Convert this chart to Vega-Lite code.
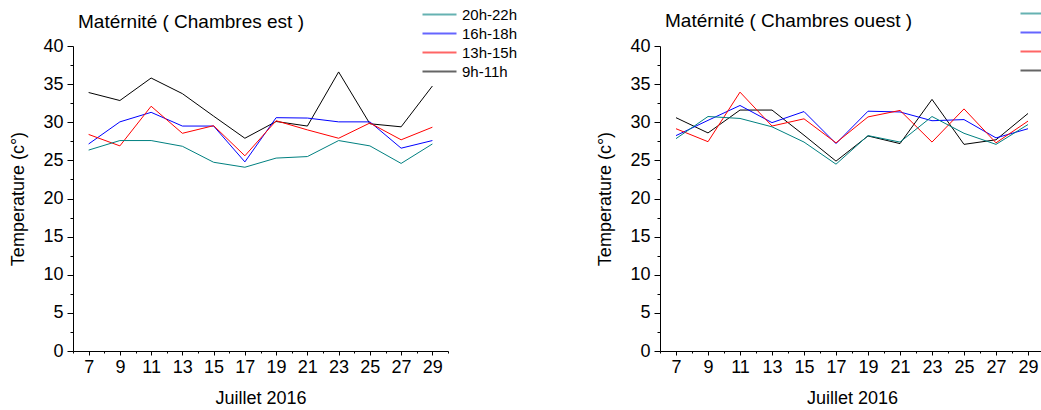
{
  "$schema": "https://vega.github.io/schema/vega-lite/v6.json",
  "background": "white",
  "padding": {"left": 9, "top": 6, "right": 5, "bottom": 5},
  "bounds": "flush",
  "spacing": 212,
  "config": {
    "view": {"stroke": null},
    "font": "Liberation Sans",
    "axis": {
      "grid": false,
      "domainColor": "black",
      "tickColor": "black",
      "labelColor": "black",
      "titleColor": "black",
      "labelFontSize": 18,
      "titleFontSize": 18,
      "titleFontWeight": "normal",
      "labelOverlap": false,
      "labelFlush": false
    },
    "legend": {
      "orient": "none",
      "symbolType": "M-3.4,0H3.4",
      "symbolSize": 100,
      "symbolStrokeWidth": 2,
      "symbolOpacity": 0.6,
      "labelFontSize": 15,
      "labelColor": "black",
      "rowPadding": 3,
      "labelOffset": 15,
      "padding": 0
    },
    "title": {"fontSize": 19, "fontWeight": "normal", "anchor": "start", "color": "black", "frame": "group"}
  },
  "datasets": {
    "est": [
      {"day": 7, "series": "9h-11h", "temp": 33.9}, {"day": 9, "series": "9h-11h", "temp": 32.85}, {"day": 11, "series": "9h-11h", "temp": 35.8}, {"day": 13, "series": "9h-11h", "temp": 33.75}, {"day": 15, "series": "9h-11h", "temp": 30.8}, {"day": 17, "series": "9h-11h", "temp": 27.9}, {"day": 19, "series": "9h-11h", "temp": 30.1}, {"day": 21, "series": "9h-11h", "temp": 29.5}, {"day": 23, "series": "9h-11h", "temp": 36.6}, {"day": 25, "series": "9h-11h", "temp": 29.8}, {"day": 27, "series": "9h-11h", "temp": 29.4}, {"day": 29, "series": "9h-11h", "temp": 34.75},
      {"day": 7, "series": "16h-18h", "temp": 27.15}, {"day": 9, "series": "16h-18h", "temp": 30.05}, {"day": 11, "series": "16h-18h", "temp": 31.3}, {"day": 13, "series": "16h-18h", "temp": 29.5}, {"day": 15, "series": "16h-18h", "temp": 29.5}, {"day": 17, "series": "16h-18h", "temp": 24.8}, {"day": 19, "series": "16h-18h", "temp": 30.6}, {"day": 21, "series": "16h-18h", "temp": 30.55}, {"day": 23, "series": "16h-18h", "temp": 30.05}, {"day": 25, "series": "16h-18h", "temp": 30.05}, {"day": 27, "series": "16h-18h", "temp": 26.6}, {"day": 29, "series": "16h-18h", "temp": 27.6},
      {"day": 7, "series": "13h-15h", "temp": 28.4}, {"day": 9, "series": "13h-15h", "temp": 26.9}, {"day": 11, "series": "13h-15h", "temp": 32.1}, {"day": 13, "series": "13h-15h", "temp": 28.55}, {"day": 15, "series": "13h-15h", "temp": 29.55}, {"day": 17, "series": "13h-15h", "temp": 25.6}, {"day": 19, "series": "13h-15h", "temp": 30.2}, {"day": 21, "series": "13h-15h", "temp": 29.0}, {"day": 23, "series": "13h-15h", "temp": 27.9}, {"day": 25, "series": "13h-15h", "temp": 29.9}, {"day": 27, "series": "13h-15h", "temp": 27.7}, {"day": 29, "series": "13h-15h", "temp": 29.35},
      {"day": 7, "series": "20h-22h", "temp": 26.35}, {"day": 9, "series": "20h-22h", "temp": 27.6}, {"day": 11, "series": "20h-22h", "temp": 27.6}, {"day": 13, "series": "20h-22h", "temp": 26.85}, {"day": 15, "series": "20h-22h", "temp": 24.75}, {"day": 17, "series": "20h-22h", "temp": 24.1}, {"day": 19, "series": "20h-22h", "temp": 25.3}, {"day": 21, "series": "20h-22h", "temp": 25.5}, {"day": 23, "series": "20h-22h", "temp": 27.6}, {"day": 25, "series": "20h-22h", "temp": 26.9}, {"day": 27, "series": "20h-22h", "temp": 24.6}, {"day": 29, "series": "20h-22h", "temp": 27.15}
    ],
    "ouest": [
      {"day": 7, "series": "9h-11h", "temp": 30.6}, {"day": 9, "series": "9h-11h", "temp": 28.6}, {"day": 11, "series": "9h-11h", "temp": 31.6}, {"day": 13, "series": "9h-11h", "temp": 31.6}, {"day": 15, "series": "9h-11h", "temp": 28.3}, {"day": 17, "series": "9h-11h", "temp": 24.9}, {"day": 19, "series": "9h-11h", "temp": 28.2}, {"day": 21, "series": "9h-11h", "temp": 27.2}, {"day": 23, "series": "9h-11h", "temp": 33.0}, {"day": 25, "series": "9h-11h", "temp": 27.1}, {"day": 27, "series": "9h-11h", "temp": 27.7}, {"day": 29, "series": "9h-11h", "temp": 31.15},
      {"day": 7, "series": "16h-18h", "temp": 28.25}, {"day": 9, "series": "16h-18h", "temp": 30.25}, {"day": 11, "series": "16h-18h", "temp": 32.2}, {"day": 13, "series": "16h-18h", "temp": 29.95}, {"day": 15, "series": "16h-18h", "temp": 31.4}, {"day": 17, "series": "16h-18h", "temp": 27.2}, {"day": 19, "series": "16h-18h", "temp": 31.45}, {"day": 21, "series": "16h-18h", "temp": 31.35}, {"day": 23, "series": "16h-18h", "temp": 30.2}, {"day": 25, "series": "16h-18h", "temp": 30.35}, {"day": 27, "series": "16h-18h", "temp": 27.95}, {"day": 29, "series": "16h-18h", "temp": 29.15},
      {"day": 7, "series": "13h-15h", "temp": 29.15}, {"day": 9, "series": "13h-15h", "temp": 27.45}, {"day": 11, "series": "13h-15h", "temp": 33.95}, {"day": 13, "series": "13h-15h", "temp": 29.5}, {"day": 15, "series": "13h-15h", "temp": 30.45}, {"day": 17, "series": "13h-15h", "temp": 27.3}, {"day": 19, "series": "13h-15h", "temp": 30.7}, {"day": 21, "series": "13h-15h", "temp": 31.55}, {"day": 23, "series": "13h-15h", "temp": 27.4}, {"day": 25, "series": "13h-15h", "temp": 31.75}, {"day": 27, "series": "13h-15h", "temp": 27.3}, {"day": 29, "series": "13h-15h", "temp": 30.15},
      {"day": 7, "series": "20h-22h", "temp": 27.85}, {"day": 9, "series": "20h-22h", "temp": 30.75}, {"day": 11, "series": "20h-22h", "temp": 30.5}, {"day": 13, "series": "20h-22h", "temp": 29.4}, {"day": 15, "series": "20h-22h", "temp": 27.4}, {"day": 17, "series": "20h-22h", "temp": 24.5}, {"day": 19, "series": "20h-22h", "temp": 28.25}, {"day": 21, "series": "20h-22h", "temp": 27.4}, {"day": 23, "series": "20h-22h", "temp": 30.75}, {"day": 25, "series": "20h-22h", "temp": 28.55}, {"day": 27, "series": "20h-22h", "temp": 27.1}, {"day": 29, "series": "20h-22h", "temp": 29.7}
    ]
  },
  "resolve": {"legend": {"color": "independent"}},
  "hconcat": [
    {
      "width": 375,
      "height": 305,
      "title": {"text": "Matérnité ( Chambres est )", "dx": 5, "offset": -40, "baseline": "alphabetic"},
      "data": {"name": "est"},
      "mark": {"type": "line", "strokeWidth": 1},
      "encoding": {
        "x": {
          "field": "day", "type": "quantitative",
          "scale": {"domain": [6, 30], "nice": false, "zero": false},
          "axis": {
            "title": "Juillet 2016",
            "values": [6,7,8,9,10,11,12,13,14,15,16,17,18,19,20,21,22,23,24,25,26,27,28,29,30],
            "labelExpr": "datum.value % 2 == 1 ? datum.label : ''",
            "tickSize": {"condition": {"test": "datum.value % 2 == 1", "value": 4}, "value": 2},
            "labelPadding": 3,
            "titlePadding": 13
          }
        },
        "y": {
          "field": "temp", "type": "quantitative",
          "scale": {"domain": [0, 40], "nice": false},
          "axis": {
            "title": "Temperature (c°)",
            "values": [0,2.5,5,7.5,10,12.5,15,17.5,20,22.5,25,27.5,30,32.5,35,37.5,40],
            "labelExpr": "datum.value % 5 == 0 ? datum.label : ''",
            "tickSize": {"condition": {"test": "datum.value % 5 == 0", "value": 6}, "value": 3},
            "labelPadding": 4,
            "titlePadding": 15
          }
        },
        "color": {
          "field": "series", "type": "nominal",
          "scale": {"domain": ["20h-22h", "16h-18h", "13h-15h", "9h-11h"], "range": ["#008080", "#0000ff", "#ff0000", "#000000"]},
          "legend": {
            "title": null, "legendX": 359, "legendY": -39,
            "encode": {"symbols": {"update": {"stroke": {"signal": "datum.value === '20h-22h' ? '#008080' : datum.value === '16h-18h' ? '#0000ff' : datum.value === '13h-15h' ? '#ff0000' : '#000000'"}}}}
          }
        }
      }
    },
    {
      "width": 384,
      "height": 305,
      "title": {"text": "Matérnité ( Chambres ouest )", "dx": 5, "offset": -40, "baseline": "alphabetic"},
      "data": {"name": "ouest"},
      "mark": {"type": "line", "strokeWidth": 1},
      "encoding": {
        "x": {
          "field": "day", "type": "quantitative",
          "scale": {"domain": [6, 30], "nice": false, "zero": false},
          "axis": {
            "title": "Juillet 2016",
            "values": [6,7,8,9,10,11,12,13,14,15,16,17,18,19,20,21,22,23,24,25,26,27,28,29,30],
            "labelExpr": "datum.value % 2 == 1 ? datum.label : ''",
            "tickSize": {"condition": {"test": "datum.value % 2 == 1", "value": 4}, "value": 2},
            "labelPadding": 3,
            "titlePadding": 13
          }
        },
        "y": {
          "field": "temp", "type": "quantitative",
          "scale": {"domain": [0, 40], "nice": false},
          "axis": {
            "title": "Temperature (c°)",
            "values": [0,2.5,5,7.5,10,12.5,15,17.5,20,22.5,25,27.5,30,32.5,35,37.5,40],
            "labelExpr": "datum.value % 5 == 0 ? datum.label : ''",
            "tickSize": {"condition": {"test": "datum.value % 5 == 0", "value": 6}, "value": 3},
            "labelPadding": 4,
            "titlePadding": 15
          }
        },
        "color": {
          "field": "series", "type": "nominal",
          "scale": {"domain": ["20h-22h", "16h-18h", "13h-15h", "9h-11h"], "range": ["#008080", "#0000ff", "#ff0000", "#000000"]},
          "legend": {
            "title": null, "legendX": 370, "legendY": -40,
            "encode": {"symbols": {"update": {"stroke": {"signal": "datum.value === '20h-22h' ? '#008080' : datum.value === '16h-18h' ? '#0000ff' : datum.value === '13h-15h' ? '#ff0000' : '#000000'"}}}}
          }
        }
      }
    }
  ]
}
